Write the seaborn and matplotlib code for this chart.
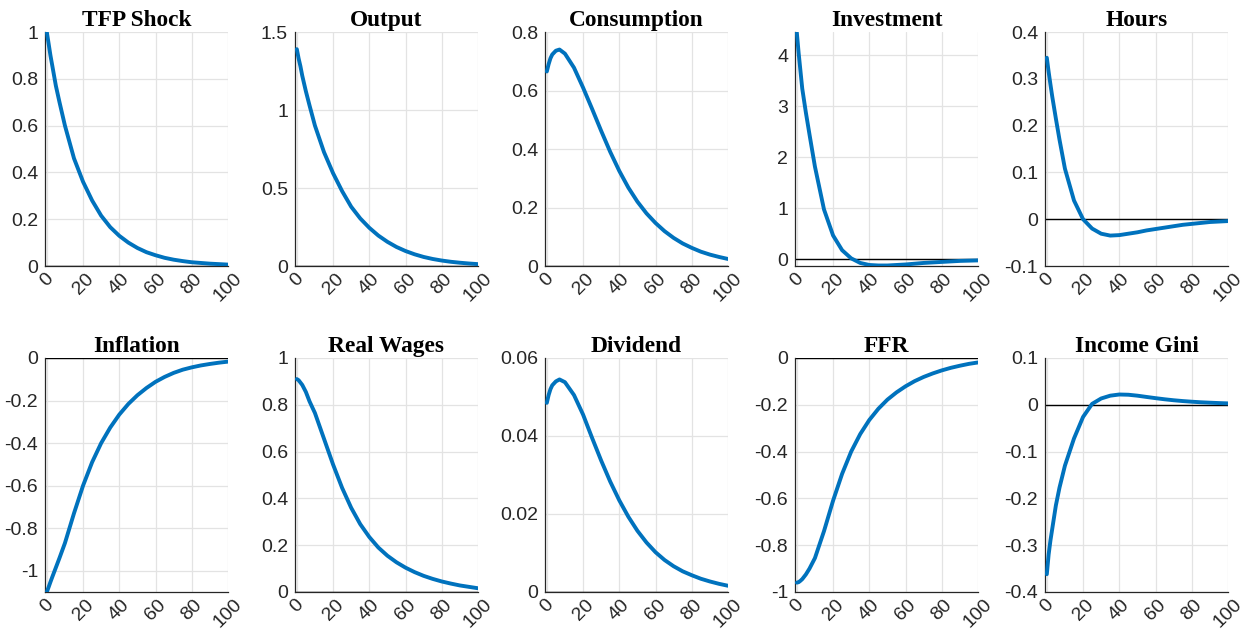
import numpy as np
import pandas as pd
import matplotlib
matplotlib.use("Agg")
import matplotlib.pyplot as plt
import seaborn as sns
from matplotlib.ticker import FuncFormatter

periods = [0, 1, 2, 3, 5, 7, 10, 15, 20, 25, 30, 35, 40, 45, 50, 55, 60, 65, 70, 75, 80, 85, 90, 95, 100]

tfp_shock = [1.0, 0.95, 0.90, 0.857, 0.77, 0.70, 0.60, 0.46, 0.36, 0.28, 0.215, 0.166, 0.129,
             0.10, 0.077, 0.059, 0.046, 0.035, 0.027, 0.021, 0.016, 0.013, 0.010, 0.008, 0.006]
output = [1.39, 1.33, 1.28, 1.22, 1.12, 1.03, 0.90, 0.73, 0.595, 0.48, 0.38, 0.305, 0.245,
          0.195, 0.155, 0.122, 0.096, 0.075, 0.058, 0.045, 0.035, 0.027, 0.021, 0.016, 0.012]
consumption = [0.665, 0.69, 0.71, 0.723, 0.736, 0.74, 0.726, 0.678, 0.61, 0.537, 0.462, 0.39,
               0.325, 0.268, 0.22, 0.18, 0.147, 0.119, 0.096, 0.077, 0.062, 0.049, 0.039, 0.031,
               0.024]
investment = [4.45, 4.05, 3.7, 3.35, 2.88, 2.45, 1.82, 0.98, 0.47, 0.18, 0.02, -0.07, -0.11,
              -0.12, -0.12, -0.11, -0.10, -0.085, -0.07, -0.06, -0.05, -0.04, -0.03, -0.025, -0.02]
hours = [0.345, 0.315, 0.288, 0.262, 0.215, 0.17, 0.108, 0.04, 0.0, -0.02, -0.031, -0.035,
         -0.034, -0.031, -0.028, -0.024, -0.021, -0.018, -0.015, -0.012, -0.010, -0.008, -0.006,
         -0.005, -0.004]
inflation = [-1.1, -1.077, -1.053, -1.03, -0.985, -0.94, -0.87, -0.73, -0.60, -0.49, -0.40,
             -0.327, -0.266, -0.216, -0.175, -0.141, -0.112, -0.089, -0.07, -0.055, -0.044,
             -0.035, -0.028, -0.022, -0.017]
real_wages = [0.91, 0.905, 0.895, 0.885, 0.855, 0.815, 0.765, 0.655, 0.545, 0.445, 0.36, 0.29,
              0.235, 0.19, 0.155, 0.127, 0.104, 0.085, 0.069, 0.056, 0.045, 0.036, 0.028, 0.022,
              0.016]
dividend = [0.0485, 0.0505, 0.052, 0.053, 0.054, 0.0545, 0.0538, 0.0505, 0.0455, 0.0395, 0.0337,
            0.0283, 0.0235, 0.0193, 0.0157, 0.0127, 0.0102, 0.0082, 0.0066, 0.0053, 0.0043,
            0.0034, 0.0027, 0.0021, 0.0016]
ffr = [-0.96, -0.958, -0.952, -0.945, -0.925, -0.90, -0.855, -0.74, -0.61, -0.495, -0.40,
       -0.325, -0.265, -0.217, -0.178, -0.147, -0.121, -0.099, -0.081, -0.066, -0.053, -0.042,
       -0.033, -0.025, -0.019]
income_gini = [-0.362, -0.32, -0.29, -0.265, -0.215, -0.177, -0.13, -0.072, -0.026, 0.002,
               0.0135, 0.0195, 0.022, 0.0215, 0.0195, 0.0168, 0.0142, 0.0118, 0.0097, 0.008,
               0.0066, 0.0054, 0.0045, 0.0037, 0.003]

titles = ["TFP Shock", "Output", "Consumption", "Investment", "Hours",
          "Inflation", "Real Wages", "Dividend", "FFR", "Income Gini"]
series = [tfp_shock, output, consumption, investment, hours,
          inflation, real_wages, dividend, ffr, income_gini]
ylims = [(0, 1), (0, 1.5), (0, 0.8), (-0.13, 4.46), (-0.1, 0.4),
         (-1.1, 0), (0, 1), (0, 0.06), (-1, 0), (-0.4, 0.1)]
yticks = [[0, 0.2, 0.4, 0.6, 0.8, 1], [0, 0.5, 1, 1.5], [0, 0.2, 0.4, 0.6, 0.8],
          [0, 1, 2, 3, 4], [-0.1, 0, 0.1, 0.2, 0.3, 0.4],
          [-1, -0.8, -0.6, -0.4, -0.2, 0], [0, 0.2, 0.4, 0.6, 0.8, 1],
          [0, 0.02, 0.04, 0.06], [-1, -0.8, -0.6, -0.4, -0.2, 0],
          [-0.4, -0.3, -0.2, -0.1, 0, 0.1]]
xticks = [0, 20, 40, 60, 80, 100]

sns.set_theme(style="whitegrid")
plt.rcParams["font.family"] = ["Liberation Sans", "DejaVu Sans"]

W, H = 1245, 634
fig = plt.figure(figsize=(W / 100, H / 100), dpi=100)
fig.patch.set_facecolor("white")

lefts = [45, 295, 545, 795, 1045]
tops = [32, 358]
aw, ah = 183, 234

line_color = "#0072BD"
dark = "#262626"


def fmt(v, p):
    if abs(v) < 1e-12:
        return "0"
    return "%g" % round(v, 6)


for i, (title, vals) in enumerate(zip(titles, series)):
    r, c = divmod(i, 5)
    ax = fig.add_axes([lefts[c] / W, 1 - (tops[r] + ah) / H, aw / W, ah / H])
    ax.set_facecolor("white")
    df = pd.DataFrame({"t": periods, "v": vals})
    ax.axhline(0, color="black", lw=1.0, zorder=2)
    sns.lineplot(data=df, x="t", y="v", ax=ax, color=line_color, lw=2.8, zorder=3)
    ax.set_xlim(-1, 100)
    ax.set_ylim(*ylims[i])
    ax.set_xticks(xticks)
    ax.set_yticks(yticks[i])
    ax.yaxis.set_major_formatter(FuncFormatter(fmt))
    ax.set_xlabel("")
    ax.set_ylabel("")
    ax.grid(True, color="#e3e3e3", lw=0.9)
    for s in ["top", "right"]:
        ax.spines[s].set_visible(False)
    for s in ["left", "bottom"]:
        ax.spines[s].set_visible(True)
        ax.spines[s].set_color(dark)
        ax.spines[s].set_linewidth(0.9)
    ax.tick_params(axis="both", direction="in", length=3, width=0.8, color=dark,
                   labelsize=14, labelcolor=dark)
    ax.tick_params(axis="y", pad=5)
    ax.tick_params(axis="x", pad=3)
    for lab in ax.get_xticklabels():
        lab.set_rotation(45)
        lab.set_ha("center")
        lab.set_va("top")
    ax.set_title(title, fontfamily="Liberation Serif", fontweight="bold",
                 fontsize=16.8, color="black", pad=4)

fig.savefig("out.png", dpi=100, facecolor="white")
